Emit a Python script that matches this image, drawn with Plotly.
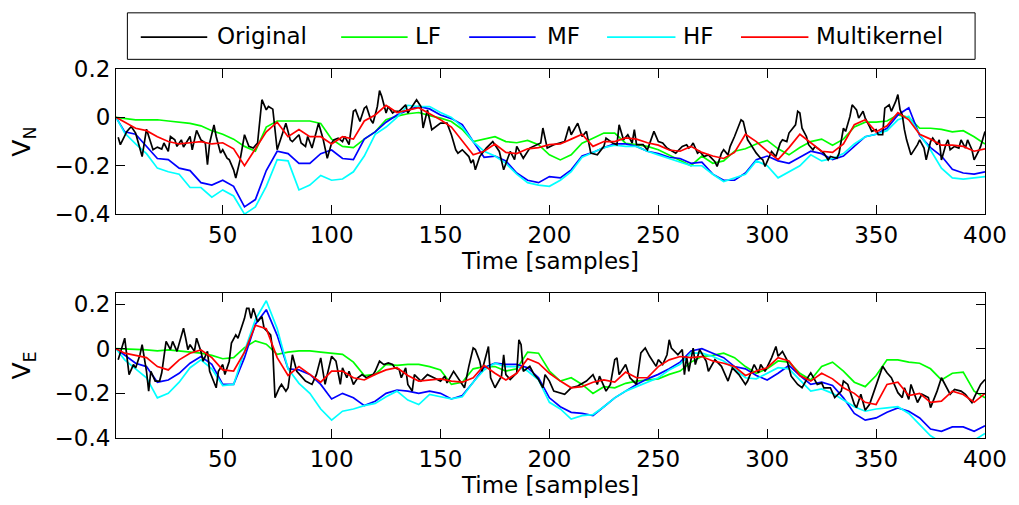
import plotly.graph_objects as go

# ---------------- data ----------------
x5 = [1] + list(range(5, 401, 5))

# Top panel (V_N)
lf_n = [0.0, -0.005, -0.01, -0.01, -0.01, -0.015, -0.02, -0.025, -0.035, -0.055, -0.07, -0.09, -0.12, -0.14, -0.04,
        -0.015, -0.015, -0.015, -0.015, -0.025, -0.09, -0.12, -0.125, -0.09, -0.06, -0.01, 0.005, 0.015, 0.02, 0.007,
        -0.003, -0.017, -0.05, -0.1, -0.09, -0.08, -0.1, -0.105, -0.095, -0.113, -0.155, -0.176, -0.155, -0.107, -0.086,
        -0.065, -0.065, -0.107, -0.113, -0.12, -0.134, -0.155, -0.176, -0.2, -0.16, -0.19, -0.18, -0.14, -0.13, -0.11,
        -0.095, -0.13, -0.155, -0.125, -0.1, -0.09, -0.115, -0.09, -0.04, -0.02, -0.02, -0.015, 0.01, 0.0, -0.045,
        -0.045, -0.05, -0.06, -0.055, -0.08, -0.11]
mf_n = [0.0, -0.06, -0.07, -0.12, -0.17, -0.175, -0.21, -0.22, -0.27, -0.28, -0.26, -0.285, -0.37, -0.34, -0.22,
        -0.14, -0.15, -0.19, -0.19, -0.15, -0.135, -0.17, -0.175, -0.09, -0.06, -0.02, 0.01, 0.03, 0.045, 0.035,
        0.01, -0.005, -0.03, -0.1, -0.165, -0.16, -0.18, -0.23, -0.26, -0.27, -0.245, -0.25, -0.217, -0.16, -0.145,
        -0.125, -0.11, -0.11, -0.12, -0.14, -0.15, -0.165, -0.17, -0.19, -0.185, -0.235, -0.26, -0.26, -0.23, -0.175,
        -0.16, -0.18, -0.19, -0.165, -0.14, -0.15, -0.175, -0.16, -0.12, -0.08, -0.07, -0.045, 0.01, 0.04, -0.075,
        -0.125, -0.16, -0.215, -0.23, -0.235, -0.225]
hf_n = [0.0, -0.065, -0.11, -0.15, -0.21, -0.225, -0.235, -0.29, -0.29, -0.33, -0.30, -0.325, -0.40, -0.37, -0.285,
        -0.175, -0.18, -0.30, -0.28, -0.24, -0.26, -0.255, -0.225, -0.16, -0.07, -0.04, 0.0, 0.05, 0.045, 0.045,
        0.02, 0.0, -0.04, -0.1, -0.14, -0.16, -0.19, -0.235, -0.27, -0.28, -0.285, -0.26, -0.225, -0.165, -0.145,
        -0.125, -0.115, -0.12, -0.12, -0.14, -0.155, -0.17, -0.185, -0.2, -0.2, -0.235, -0.265, -0.25, -0.235, -0.18,
        -0.2, -0.25, -0.225, -0.2, -0.155, -0.18, -0.17, -0.15, -0.11, -0.08, -0.07, -0.055, -0.01, 0.005, -0.07,
        -0.135, -0.21, -0.25, -0.255, -0.25, -0.245]
mk_n = [0.0, -0.02, -0.045, -0.055, -0.08, -0.10, -0.11, -0.105, -0.10, -0.11, -0.105, -0.13, -0.20, -0.13, -0.06,
        -0.02, -0.08, -0.05, -0.08, -0.08, -0.11, -0.08, -0.09, -0.015, 0.01, 0.05, 0.02, 0.03, 0.04, 0.015,
        -0.01, -0.04, -0.10, -0.155, -0.14, -0.11, -0.145, -0.15, -0.13, -0.125, -0.113, -0.11, -0.09, -0.07, -0.12,
        -0.10, -0.10, -0.085, -0.09, -0.105, -0.115, -0.135, -0.14, -0.12, -0.145, -0.16, -0.17, -0.145, -0.07, -0.1,
        -0.14, -0.175, -0.125, -0.07, -0.105, -0.14, -0.145, -0.11, -0.03, -0.01, -0.06, -0.035, 0.02, -0.01, -0.07,
        -0.09, -0.115, -0.115, -0.12, -0.14, -0.13]

orig_n_x = [2, 3, 6, 8, 10, 13, 15, 17, 18, 20, 22, 23, 25, 26, 28, 29, 31, 32, 35, 36, 38, 40, 42, 43, 44, 46, 47,
            49, 50, 52, 53, 55, 56, 58, 60, 62, 64, 66, 68, 70, 71, 73, 74, 75, 77, 79, 81, 82, 85, 86, 88, 89, 91,
            93, 94, 96, 97, 98, 100, 101, 103, 105, 106, 108, 110, 111, 113, 115, 116, 118, 119, 121, 122, 123, 125,
            126, 128, 129, 131, 134, 135, 139, 141, 142, 144, 146, 150, 153, 155, 157, 158, 160, 163, 164, 165, 166,
            168, 171, 174, 177, 179, 181, 182, 184, 185, 188, 191, 196, 197, 199, 202, 207, 209, 210, 213, 215, 217,
            219, 222, 225, 226, 229, 231, 232, 234, 236, 238, 239, 240, 243, 245, 248, 250, 252, 254, 258, 261, 263,
            264, 265, 266, 268, 269, 271, 273, 276, 277, 279, 280, 282, 283, 285, 288, 289, 291, 292, 294, 295, 297,
            298, 299, 301, 302, 304, 306, 307, 309, 310, 313, 314, 315, 316, 318, 319, 321, 322, 324, 326, 328, 329,
            332, 333, 335, 336, 338, 339, 341, 342, 344, 345, 347, 348, 350, 351, 353, 354, 356, 357, 359, 360, 361,
            362, 363, 364, 366, 367, 369, 370, 372, 373, 375, 376, 378, 379, 380, 382, 383, 384, 386, 388, 389, 391,
            392, 394, 395, 397, 398, 400]
orig_n = [-0.082, -0.113, -0.058, -0.038, -0.065, -0.162, -0.049, -0.10, -0.134, -0.123, -0.131, -0.106, -0.141,
          -0.079, -0.093, -0.12, -0.093, -0.123, -0.079, -0.134, -0.054, -0.093, -0.106, -0.196, -0.106, -0.031,
          -0.079, -0.148, -0.134, -0.169, -0.175, -0.217, -0.251, -0.175, -0.072, -0.12, -0.127, -0.106, 0.073,
          0.031, 0.045, 0.034, -0.038, -0.134, -0.079, -0.024, -0.093, -0.10, -0.072, -0.106, -0.12, -0.079, -0.127,
          -0.058, -0.024, -0.086, -0.134, -0.169, -0.106, -0.093, -0.086, -0.10, -0.079, -0.113, 0.025, 0.031,
          -0.017, 0.038, 0.045, -0.01, -0.024, 0.045, 0.111, 0.087, 0.018, 0.045, 0.018, 0.025, 0.025, 0.052, 0.018,
          0.073, 0.045, -0.044, 0.031, -0.051, -0.024, -0.024, -0.072, -0.134, -0.148, -0.134, -0.162, -0.189,
          -0.175, -0.217, -0.162, -0.127, -0.10, -0.141, -0.217, -0.162, -0.141, -0.175, -0.12, -0.169, -0.127,
          -0.106, -0.044, -0.127, -0.113, -0.10, -0.038, -0.072, -0.024, -0.079, -0.058, -0.148, -0.155, -0.12,
          -0.086, -0.106, -0.113, -0.031, -0.093, -0.072, -0.106, -0.051, -0.113, -0.113, -0.134, -0.058, -0.10,
          -0.106, -0.127, -0.148, -0.12, -0.113, -0.127, -0.12, -0.106, -0.148, -0.141, -0.162, -0.155, -0.183,
          -0.203, -0.148, -0.134, -0.155, -0.12, -0.079, -0.01, -0.017, -0.093, -0.106, -0.134, -0.148, -0.169,
          -0.176, -0.203, -0.162, -0.141, -0.162, -0.106, -0.093, -0.10, -0.065, -0.031, 0.025, 0.018, -0.045,
          -0.079, -0.113, -0.134, -0.12, -0.134, -0.148, -0.176, -0.162, -0.169, -0.148, -0.045, -0.058, 0.004,
          0.052, 0.031, -0.003, 0.025, -0.003, -0.038, -0.058, -0.051, -0.072, -0.072, 0.038, 0.052, 0.025, 0.066,
          0.094, 0.031, 0.011, -0.051, -0.093, -0.155, -0.141, -0.113, -0.093, -0.127, -0.176, -0.10, -0.086,
          -0.113, -0.093, -0.176, -0.113, -0.093, -0.134, -0.12, -0.127, -0.093, -0.127, -0.093, -0.134, -0.176,
          -0.141, -0.12, -0.058]

# Bottom panel (V_E)
lf_e = [0.0, 0.0, -0.003, -0.005, -0.01, -0.005, -0.01, -0.015, -0.02, -0.03, -0.045, -0.04, 0.005, 0.035, 0.02,
        -0.025, -0.015, -0.01, -0.01, -0.015, -0.02, -0.025, -0.06, -0.12, -0.115, -0.07, -0.075, -0.07, -0.07, -0.08,
        -0.095, -0.16, -0.15, -0.09, -0.08, -0.08, -0.1, -0.09, -0.015, -0.02, -0.1, -0.145, -0.13, -0.16, -0.2,
        -0.17, -0.175, -0.155, -0.145, -0.14, -0.135, -0.115, -0.1, -0.06, -0.035, -0.03, -0.02, -0.04, -0.08, -0.11,
        -0.09, -0.055, -0.06, -0.11, -0.14, -0.08, -0.06, -0.1, -0.15, -0.17, -0.12, -0.05, -0.05, -0.06, -0.065,
        -0.09, -0.14, -0.11, -0.105, -0.19, -0.22]
mf_e = [0.0, -0.03, -0.065, -0.08, -0.15, -0.14, -0.11, -0.065, -0.035, -0.07, -0.16, -0.16, -0.04, 0.11, 0.175,
        0.06, -0.09, -0.095, -0.115, -0.16, -0.225, -0.2, -0.22, -0.255, -0.235, -0.2, -0.185, -0.19, -0.2, -0.19,
        -0.2, -0.225, -0.21, -0.15, -0.085, -0.065, -0.07, -0.07, -0.085, -0.13, -0.22, -0.26, -0.285, -0.29, -0.3,
        -0.26, -0.22, -0.19, -0.16, -0.135, -0.115, -0.09, -0.06, -0.01, 0.0, -0.02, -0.04, -0.08, -0.09, -0.12,
        -0.14, -0.11, -0.075, -0.12, -0.16, -0.15, -0.165, -0.22, -0.29, -0.32, -0.31, -0.285, -0.265, -0.28, -0.31,
        -0.36, -0.37, -0.35, -0.35, -0.37, -0.345]
hf_e = [0.0, -0.05, -0.09, -0.13, -0.22, -0.2, -0.15, -0.085, -0.05, -0.09, -0.165, -0.16, -0.01, 0.13, 0.215,
        0.09, -0.09, -0.155, -0.2, -0.27, -0.32, -0.28, -0.27, -0.255, -0.245, -0.215, -0.19, -0.23, -0.25, -0.205,
        -0.215, -0.225, -0.215, -0.15, -0.095, -0.065, -0.08, -0.08, -0.1, -0.14, -0.24, -0.27, -0.315, -0.3, -0.295,
        -0.26, -0.22, -0.19, -0.17, -0.15, -0.13, -0.095, -0.07, -0.02, -0.02, -0.035, -0.055, -0.09, -0.13, -0.135,
        -0.11, -0.085, -0.09, -0.14, -0.19, -0.18, -0.2, -0.23, -0.26, -0.28, -0.27, -0.265, -0.26, -0.29, -0.34,
        -0.39, -0.42, -0.43, -0.42, -0.41, -0.38]
mk_e = [0.0, -0.02, -0.03, -0.04, -0.08, -0.095, -0.05, -0.02, -0.005, -0.04, -0.095, -0.1, -0.015, 0.105, 0.09,
        -0.04, -0.12, -0.08, -0.115, -0.15, -0.1, -0.1, -0.13, -0.14, -0.115, -0.095, -0.085, -0.12, -0.145, -0.14,
        -0.135, -0.145, -0.15, -0.13, -0.075, -0.11, -0.14, -0.11, -0.045, -0.065, -0.11, -0.145, -0.175, -0.17,
        -0.15, -0.14, -0.15, -0.105, -0.13, -0.13, -0.08, -0.05, -0.035, -0.04, -0.035, -0.055, -0.065, -0.08, -0.12,
        -0.1, -0.085, -0.04, -0.055, -0.12, -0.145, -0.11, -0.135, -0.175, -0.2, -0.24, -0.25, -0.16, -0.15, -0.21,
        -0.2, -0.24, -0.235, -0.19, -0.205, -0.24, -0.2]

orig_e_x = [2, 5, 7, 9, 10, 12, 13, 15, 16, 17, 19, 21, 22, 24, 26, 27, 29, 30, 32, 33, 34, 35, 37, 38, 40, 41, 43,
            44, 47, 48, 50, 51, 53, 54, 56, 57, 60, 61, 62, 63, 64, 66, 68, 69, 72, 73, 74, 76, 77, 79, 80, 82, 84,
            86, 88, 91, 93, 95, 97, 98, 100, 102, 104, 105, 107, 108, 110, 112, 114, 116, 119, 120, 122, 124, 126,
            128, 129, 131, 132, 134, 135, 137, 138, 141, 144, 147, 150, 152, 153, 156, 160, 161, 163, 165, 166, 168,
            169, 171, 172, 173, 175, 178, 179, 180, 182, 185, 186, 187, 188, 191, 193, 195, 197, 198, 200, 202, 205,
            207, 210, 213, 217, 220, 222, 223, 226, 228, 230, 231, 232, 235, 237, 240, 242, 244, 246, 249, 250, 252,
            254, 255, 256, 259, 261, 262, 263, 264, 266, 267, 269, 272, 273, 276, 279, 282, 284, 287, 290, 291, 294,
            296, 297, 299, 302, 304, 305, 307, 309, 311, 314, 316, 319, 320, 323, 325, 326, 329, 331, 334, 335, 337,
            340, 341, 343, 345, 347, 350, 353, 355, 357, 360, 362, 363, 365, 366, 369, 371, 374, 375, 378, 380, 383,
            384, 386, 389, 391, 394, 395, 397, 398, 400]
orig_e = [-0.049, 0.047, -0.116, -0.071, -0.086, -0.027, 0.018, -0.101, -0.19, -0.101, -0.145, -0.145, -0.108,
          0.033, -0.004, 0.033, -0.012, 0.025, 0.092, 0.047, -0.004, 0.018, -0.012, 0.047, -0.012, -0.056, -0.012,
          -0.101, -0.175, -0.101, -0.071, -0.116, -0.056, 0.025, 0.062, 0.047, 0.136, 0.181, 0.181, 0.136, 0.181,
          0.121, 0.144, 0.092, 0.062, -0.012, -0.219, -0.175, -0.16, -0.19, -0.175, -0.027, -0.101, -0.123, -0.145,
          -0.16, -0.116, -0.041, -0.16, -0.116, -0.034, -0.056, -0.16, -0.086, -0.13, -0.101, -0.16, -0.13, -0.116,
          -0.13, -0.116, -0.101, -0.056, -0.071, -0.064, -0.071, -0.086, -0.093, -0.13, -0.086, -0.16, -0.19,
          -0.116, -0.145, -0.116, -0.13, -0.145, -0.123, -0.153, -0.101, -0.16, -0.175, -0.079, 0.003, -0.004,
          -0.056, -0.101, -0.034, 0.01, -0.13, -0.175, -0.123, -0.027, -0.116, -0.138, -0.108, 0.04, 0.018, -0.101,
          -0.079, -0.116, -0.138, -0.175, -0.116, -0.145, -0.19, -0.197, -0.204, -0.175, -0.167, -0.145, -0.116,
          -0.16, -0.123, -0.19, -0.16, -0.049, -0.041, -0.116, -0.071, -0.13, -0.16, -0.019, 0.003, -0.034, -0.079,
          -0.049, -0.071, -0.027, 0.04, 0.003, -0.027, -0.004, -0.116, -0.034, -0.101, 0.003, -0.071, -0.004,
          -0.056, -0.101, -0.049, -0.079, -0.145, -0.086, -0.116, -0.16, -0.145, -0.071, -0.108, -0.071, -0.101,
          -0.041, 0.01, -0.034, -0.012, -0.049, -0.123, -0.16, -0.175, -0.123, -0.108, -0.16, -0.153, -0.175,
          -0.175, -0.219, -0.19, -0.145, -0.16, -0.249, -0.264, -0.204, -0.276, -0.249, -0.16, -0.079, -0.108,
          -0.13, -0.197, -0.219, -0.175, -0.227, -0.16, -0.241, -0.204, -0.219, -0.264, -0.19, -0.13, -0.19, -0.204,
          -0.182, -0.19, -0.204, -0.241, -0.219, -0.175, -0.16, -0.138]

x_ticks = [50, 100, 150, 200, 250, 300, 350, 400]
y_ticks = [-0.4, -0.2, 0, 0.2]
y_tick_text = ["\u22120.4", "\u22120.2", "0", "0.2"]

names = ["Original", "LF", "MF", "HF", "Multikernel"]
colors = ["#000000", "#00ff00", "#0000ff", "#00ffff", "#ff0000"]

# ---------------- figure ----------------
FONT = "DejaVu Sans"
FS = 23
LW = 1.7

fig = go.Figure()

panels = [
    ("x", "y", orig_n_x, orig_n, [lf_n, mf_n, hf_n, mk_n]),
    ("x2", "y2", orig_e_x, orig_e, [lf_e, mf_e, hf_e, mk_e]),
]
for xa, ya, ox, oy, series in panels:
    for name, col, ys in zip(names[1:], colors[1:], series[:3]):
        fig.add_trace(go.Scatter(x=x5, y=ys, mode="lines", name=name, xaxis=xa, yaxis=ya,
                                 line=dict(color=col, width=LW), showlegend=False))
    fig.add_trace(go.Scatter(x=ox, y=oy, mode="lines", name=names[0], xaxis=xa, yaxis=ya,
                             line=dict(color=colors[0], width=LW), showlegend=False))
    fig.add_trace(go.Scatter(x=x5, y=series[3], mode="lines", name=names[4], xaxis=xa, yaxis=ya,
                             line=dict(color=colors[4], width=LW), showlegend=False))

axis_common = dict(showline=True, linecolor="black", linewidth=1, mirror="ticks", ticks="inside",
                   ticklen=9, tickcolor="black", tickwidth=1, showgrid=False, zeroline=False,
                   tickfont=dict(family=FONT, size=FS, color="black"))

fig.update_layout(
    width=1019, height=505,
    margin=dict(l=116, r=27, t=69, b=66),
    paper_bgcolor="white", plot_bgcolor="white",
    font=dict(family=FONT, size=FS, color="black"),
    showlegend=False,
    xaxis=dict(domain=[0, 1], anchor="y", range=[1, 400], tickvals=x_ticks,
               title=dict(text="Time [samples]", font=dict(family=FONT, size=FS), standoff=5), **axis_common),
    yaxis=dict(domain=[0.6068, 1], anchor="x", range=[-0.4, 0.2], tickvals=y_ticks, ticktext=y_tick_text,
               title=dict(text="V<sub>N</sub>", font=dict(family=FONT, size=FS + 2), standoff=16), **axis_common),
    xaxis2=dict(domain=[0, 1], anchor="y2", range=[1, 400], tickvals=x_ticks,
                title=dict(text="Time [samples]", font=dict(family=FONT, size=FS), standoff=5), **axis_common),
    yaxis2=dict(domain=[0, 0.3932], anchor="x2", range=[-0.4, 0.25], tickvals=y_ticks, ticktext=y_tick_text,
                title=dict(text="V<sub>E</sub>", font=dict(family=FONT, size=FS + 2), standoff=16), **axis_common),
)

# ---------------- manual legend (MATLAB style box) ----------------
leg_box = dict(x0=0.0131, x1=0.9886, y0=1.0262, y1=1.1522)
leg_y = 1.0865
leg_lines = [(0.0285, 0.1050), (0.2591, 0.3356), (0.4064, 0.4829), (0.5651, 0.6438), (0.7192, 0.7968)]
leg_text_x = [0.1142, 0.3413, 0.4932, 0.6507, 0.8037]

fig.add_shape(type="rect", xref="paper", yref="paper", line=dict(color="black", width=1),
              fillcolor="white", layer="above", **leg_box)
for name, col, (lx0, lx1), tx in zip(names, colors, leg_lines, leg_text_x):
    fig.add_shape(type="line", xref="paper", yref="paper", x0=lx0, x1=lx1, y0=leg_y, y1=leg_y,
                  line=dict(color=col, width=LW), layer="above")
    fig.add_annotation(text=name, xref="paper", yref="paper", x=tx, y=leg_y + 0.003, xanchor="left",
                       yanchor="middle", showarrow=False, font=dict(family=FONT, size=FS, color="black"))

fig.write_html("out.html")
